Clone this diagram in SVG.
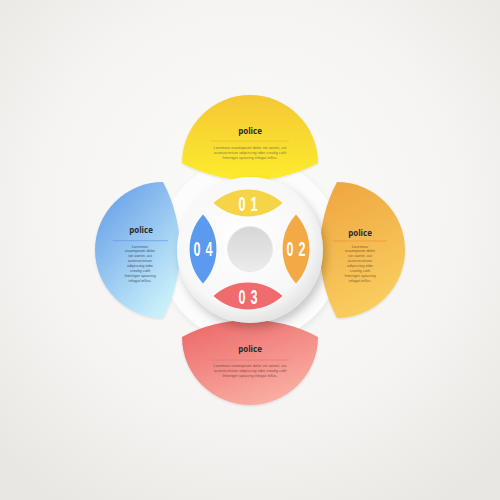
<svg xmlns="http://www.w3.org/2000/svg" width="500" height="500" viewBox="0 0 500 500">
  <defs>
    <radialGradient id="bg" cx="50%" cy="42%" r="70%">
      <stop offset="0" stop-color="#fbfbfa"/>
      <stop offset="0.6" stop-color="#f5f4f2"/>
      <stop offset="1" stop-color="#e9e7e3"/>
    </radialGradient>
    <linearGradient id="gYellow" x1="0" y1="0" x2="0" y2="1">
      <stop offset="0" stop-color="#f5c735"/>
      <stop offset="1" stop-color="#fcec2c"/>
    </linearGradient>
    <linearGradient id="gOrange" x1="0" y1="0" x2="0.3" y2="1">
      <stop offset="0" stop-color="#eea540"/>
      <stop offset="1" stop-color="#f9cc5e"/>
    </linearGradient>
    <linearGradient id="gRed" x1="0" y1="0" x2="0.6" y2="1">
      <stop offset="0" stop-color="#ec6566"/>
      <stop offset="1" stop-color="#f9aea2"/>
    </linearGradient>
    <linearGradient id="gBlue" x1="0" y1="0" x2="0.7" y2="1">
      <stop offset="0" stop-color="#5c98e6"/>
      <stop offset="1" stop-color="#c9f0fa"/>
    </linearGradient>
    <radialGradient id="gRing" cx="45%" cy="42%" r="58%">
      <stop offset="0" stop-color="#ffffff"/>
      <stop offset="0.8" stop-color="#f7f7f7"/>
      <stop offset="1" stop-color="#e4e4e4"/>
    </radialGradient>
    <linearGradient id="gHole" x1="0" y1="0" x2="0" y2="1">
      <stop offset="0" stop-color="#d6d6d6"/>
      <stop offset="1" stop-color="#ececec"/>
    </linearGradient>
    <filter id="shadow" x="-30%" y="-30%" width="160%" height="160%">
      <feDropShadow dx="3" dy="5" stdDeviation="5" flood-color="#000" flood-opacity="0.22"/>
    </filter>
    <filter id="soft" x="-20%" y="-20%" width="140%" height="140%">
      <feDropShadow dx="0" dy="1" stdDeviation="1.2" flood-color="#000" flood-opacity="0.12"/>
    </filter>
    <filter id="faint" x="-20%" y="-20%" width="140%" height="140%">
      <feDropShadow dx="1" dy="2" stdDeviation="3" flood-color="#000" flood-opacity="0.07"/>
    </filter>
  </defs>
  <style>
    .title { font-family: "Open Sans", "Liberation Sans", sans-serif; font-weight: bold; font-size: 8px; fill: #2f2a26; text-anchor: middle; }
    .lorem { font-family: "Liberation Sans", Arial, sans-serif; font-size: 3.9px; text-anchor: middle; }
    .num { font-family: "Liberation Sans", Arial, sans-serif; font-weight: bold; font-size: 21px; fill: #ffffff; text-anchor: middle; letter-spacing: 8px; }
  </style>

  <rect width="500" height="500" fill="url(#bg)"/>

  <circle id="backing" cx="250" cy="250" r="92" fill="#fcfcfc" filter="url(#faint)"/>

  <g id="petal-top">
    <path d="M 182 163 A 68 68 0 0 1 318 163 A 145 145 0 0 1 182 163 Z" fill="url(#gYellow)" filter="url(#soft)"/>
    <text class="title" x="250" y="134">police</text>
    <line x1="210" y1="141" x2="289" y2="141" stroke="#e6b52a" stroke-width="0.6"/>
    <g class="lorem" fill="#8d7a3c">
      <text x="250" y="148.5">Loremour ouamipoum dolor ste awnet, ast</text>
      <text x="250" y="153.5">aconsectetuer adipiscing tobe creafig cath</text>
      <text x="250" y="158.5">Interriger apiacing infogat tellus.</text>
    </g>
  </g>

  <g id="petal-right">
    <path d="M 337 182 A 68 68 0 0 1 337 318 A 145 145 0 0 1 337 182 Z" fill="url(#gOrange)" filter="url(#soft)"/>
    <text class="title" x="360" y="235.5">police</text>
    <line x1="333" y1="241" x2="387" y2="241" stroke="#e58f35" stroke-width="0.6"/>
    <g class="lorem" fill="#8a6432">
      <text x="360" y="247.5">Loremour</text>
      <text x="360" y="252.4">ouamipoum dolor</text>
      <text x="360" y="257.2">ste awnet, ast</text>
      <text x="360" y="262.1">aconsectetuer</text>
      <text x="360" y="266.9">adipiscing tobe</text>
      <text x="360" y="271.8">creafig cath</text>
      <text x="360" y="276.6">Interriger apiacing</text>
      <text x="360" y="281.5">infogat tellus.</text>
    </g>
  </g>

  <g id="petal-bottom">
    <path d="M 318 337 A 68 68 0 0 1 182 337 A 145 145 0 0 1 318 337 Z" fill="url(#gRed)" filter="url(#soft)"/>
    <text class="title" x="250" y="352">police</text>
    <line x1="210" y1="360" x2="289" y2="360" stroke="#e07474" stroke-width="0.6"/>
    <g class="lorem" fill="#8a4e4e">
      <text x="250" y="367.3">Loremour ouamipoum dolor ste awnet, ast</text>
      <text x="250" y="372.3">aconsectetuer adipiscing tobe creafig cath</text>
      <text x="250" y="377.3">Interriger apiacing infogat tellus.</text>
    </g>
  </g>

  <g id="petal-left">
    <path d="M 163 318 A 68 68 0 0 1 163 182 A 145 145 0 0 1 163 318 Z" fill="url(#gBlue)" filter="url(#soft)"/>
    <text class="title" x="141" y="232.5">police</text>
    <line x1="113" y1="240.7" x2="168" y2="240.7" stroke="#5a8fe2" stroke-width="0.6"/>
    <g class="lorem" fill="#4a566a">
      <text x="140" y="247.5">Loremour</text>
      <text x="140" y="252.4">ouamipoum dolor</text>
      <text x="140" y="257.2">ste awnet, ast</text>
      <text x="140" y="262.1">aconsectetuer</text>
      <text x="140" y="266.9">adipiscing tobe</text>
      <text x="140" y="271.8">creafig cath</text>
      <text x="140" y="276.6">Interriger apiacing</text>
      <text x="140" y="281.5">infogat tellus.</text>
    </g>
  </g>

  <g id="center-ring">
    <circle cx="250" cy="250" r="73" fill="url(#gRing)" filter="url(#shadow)"/>
    <circle cx="250" cy="249" r="22.5" fill="url(#gHole)" stroke="#e9e9e9" stroke-width="1"/>
  </g>

  <g id="step-01">
    <path d="M 213.5 203 A 51 51 0 0 1 282.5 203 A 51 51 0 0 1 213.5 203 Z" fill="#f6d447"/>
    <text class="num" transform="translate(248,210.5) scale(0.6,1)" x="4">01</text>
  </g>
  <g id="step-02">
    <path d="M 296 214.5 A 51 51 0 0 1 296 283.5 A 51 51 0 0 1 296 214.5 Z" fill="#f2a946"/>
    <text class="num" transform="translate(296,255.5) scale(0.6,1)" x="4">02</text>
  </g>
  <g id="step-03">
    <path d="M 213.5 296 A 51 51 0 0 1 282.5 296 A 51 51 0 0 1 213.5 296 Z" fill="#f06b6d"/>
    <text class="num" transform="translate(248,303.5) scale(0.6,1)" x="4">03</text>
  </g>
  <g id="step-04">
    <path d="M 203 214.5 A 51 51 0 0 1 203 283.5 A 51 51 0 0 1 203 214.5 Z" fill="#5b9aee"/>
    <text class="num" transform="translate(203,255.5) scale(0.6,1)" x="4">04</text>
  </g>
</svg>
